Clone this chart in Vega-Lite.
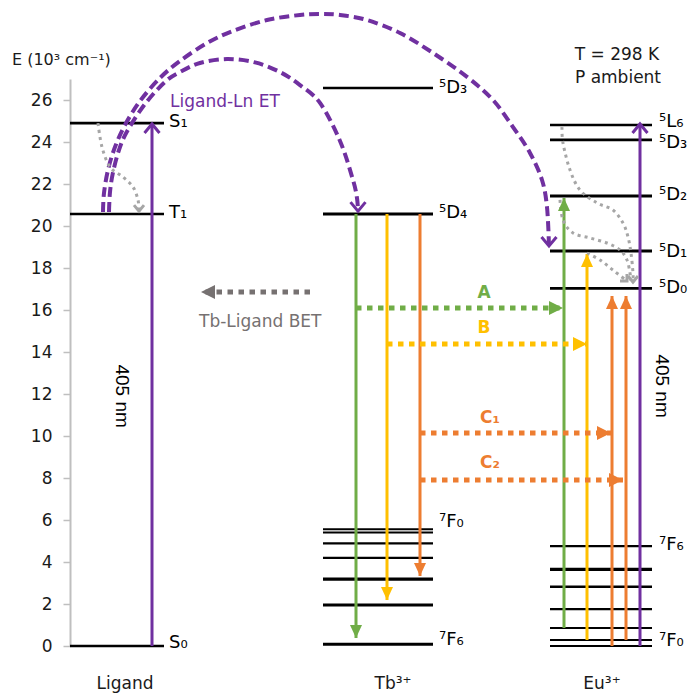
{
  "$schema": "https://vega.github.io/schema/vega-lite/v6.json",
  "width": 624,
  "height": 567,
  "autosize": {"type": "none"},
  "padding": {"left": 70, "top": 79, "right": 0, "bottom": 48},
  "background": "white",
  "config": {
    "view": {"stroke": null},
    "font": "DejaVu Sans",
    "axisY": {
      "grid": false,
      "domainColor": "#BFBFBF", "domainWidth": 2,
      "tickColor": "#BFBFBF", "tickWidth": 1.5, "tickSize": 7,
      "labelFont": "DejaVu Sans", "labelFontSize": 17, "labelColor": "#1a1a1a", "labelPadding": 11,
      "labelOverlap": false, "labelFlush": false, "labelBound": false
    }
  },
  "datasets": {
    "levels": [
      {"ion": "Ligand", "state": "S0", "x1": 70, "x2": 164, "y": 0, "weight": "normal"},
      {"ion": "Ligand", "state": "T1", "x1": 70, "x2": 164, "y": 20.57, "weight": "normal"},
      {"ion": "Ligand", "state": "S1", "x1": 70, "x2": 164, "y": 24.9, "weight": "normal"},
      {"ion": "Tb", "state": "5D3", "x1": 323, "x2": 433, "y": 26.57, "weight": "normal"},
      {"ion": "Tb", "state": "5D4", "x1": 323, "x2": 433, "y": 20.57, "weight": "bold"},
      {"ion": "Tb", "state": "7F0", "x1": 323, "x2": 433, "y": 5.56, "weight": "hair"},
      {"ion": "Tb", "state": "7F1", "x1": 323, "x2": 433, "y": 5.41, "weight": "hair"},
      {"ion": "Tb", "state": "7F2", "x1": 323, "x2": 433, "y": 4.89, "weight": "thin"},
      {"ion": "Tb", "state": "7F3", "x1": 323, "x2": 433, "y": 4.2, "weight": "thin"},
      {"ion": "Tb", "state": "7F4", "x1": 323, "x2": 433, "y": 3.18, "weight": "heavy"},
      {"ion": "Tb", "state": "7F5", "x1": 323, "x2": 433, "y": 1.95, "weight": "bold"},
      {"ion": "Tb", "state": "7F6", "x1": 323, "x2": 433, "y": 0.08, "weight": "bold"},
      {"ion": "Eu", "state": "5L6", "x1": 550, "x2": 652, "y": 24.81, "weight": "normal"},
      {"ion": "Eu", "state": "5D3", "x1": 550, "x2": 652, "y": 24.1, "weight": "normal"},
      {"ion": "Eu", "state": "5D2", "x1": 550, "x2": 652, "y": 21.43, "weight": "bold"},
      {"ion": "Eu", "state": "5D1", "x1": 550, "x2": 652, "y": 18.81, "weight": "bold"},
      {"ion": "Eu", "state": "5D0", "x1": 550, "x2": 652, "y": 17.03, "weight": "bold"},
      {"ion": "Eu", "state": "7F6", "x1": 550, "x2": 652, "y": 4.76, "weight": "thin"},
      {"ion": "Eu", "state": "7F5", "x1": 550, "x2": 652, "y": 3.65, "weight": "heavy"},
      {"ion": "Eu", "state": "7F4", "x1": 550, "x2": 652, "y": 2.82, "weight": "normal"},
      {"ion": "Eu", "state": "7F3", "x1": 550, "x2": 652, "y": 1.76, "weight": "thin"},
      {"ion": "Eu", "state": "7F2", "x1": 550, "x2": 652, "y": 0.86, "weight": "hair"},
      {"ion": "Eu", "state": "7F1", "x1": 550, "x2": 652, "y": 0.29, "weight": "hair"},
      {"ion": "Eu", "state": "7F0", "x1": 550, "x2": 652, "y": 0, "weight": "hair"}
    ],
    "levelLabels": [
      {"x": 169, "y": 24.95, "label": "S₁"},
      {"x": 169, "y": 20.6, "label": "T₁"},
      {"x": 169, "y": 0.14, "label": "S₀"},
      {"x": 439, "y": 26.57, "label": "⁵D₃"},
      {"x": 439, "y": 20.62, "label": "⁵D₄"},
      {"x": 439, "y": 5.9, "label": "⁷F₀"},
      {"x": 439, "y": 0.29, "label": "⁷F₆"},
      {"x": 659, "y": 24.95, "label": "⁵L₆"},
      {"x": 659, "y": 23.95, "label": "⁵D₃"},
      {"x": 659, "y": 21.48, "label": "⁵D₂"},
      {"x": 659, "y": 18.76, "label": "⁵D₁"},
      {"x": 659, "y": 17.05, "label": "⁵D₀"},
      {"x": 659, "y": 4.81, "label": "⁷F₆"},
      {"x": 659, "y": 0.24, "label": "⁷F₀"}
    ],
    "vert": [
      {"x": 152, "y1": 0, "y2": 24.86, "path": "ET", "head": "chevUp"},
      {"x": 356, "y1": 20.57, "y2": 0.38, "path": "A", "head": "triDown"},
      {"x": 387, "y1": 20.57, "y2": 2.19, "path": "B", "head": "triDown"},
      {"x": 420, "y1": 20.57, "y2": 3.33, "path": "C", "head": "triDown"},
      {"x": 564, "y1": 0.86, "y2": 21.33, "path": "A", "head": "triUp"},
      {"x": 587, "y1": 0.29, "y2": 18.67, "path": "B", "head": "triUp"},
      {"x": 612, "y1": 0, "y2": 16.67, "path": "C", "head": "triUp"},
      {"x": 626, "y1": 0.29, "y2": 16.67, "path": "C", "head": "triUp"},
      {"x": 640, "y1": 0, "y2": 24.86, "path": "ET", "head": "chevUp"}
    ],
    "horiz": [
      {"x1": 310, "x2": 201, "y": 16.86, "path": "BET", "head": "triLeft"},
      {"x1": 356, "x2": 563, "y": 16.1, "path": "A", "head": "triRight"},
      {"x1": 387, "x2": 587, "y": 14.38, "path": "B", "head": "triRight"},
      {"x1": 420, "x2": 611, "y": 10.14, "path": "C", "head": "triRight"},
      {"x1": 420, "x2": 623, "y": 7.9, "path": "C", "head": "triRight"}
    ],
    "curves": [
      {"curve": "ET1", "i": 0, "x": 109, "y": 20.67, "path": "ET"},
      {"curve": "ET1", "i": 1, "x": 110, "y": 21.62, "path": "ET"},
      {"curve": "ET1", "i": 2, "x": 113, "y": 22.55, "path": "ET"},
      {"curve": "ET1", "i": 3, "x": 119, "y": 23.62, "path": "ET"},
      {"curve": "ET1", "i": 4, "x": 127, "y": 24.5, "path": "ET"},
      {"curve": "ET1", "i": 5, "x": 145, "y": 25.81, "path": "ET"},
      {"curve": "ET1", "i": 6, "x": 165, "y": 26.86, "path": "ET"},
      {"curve": "ET1", "i": 7, "x": 180, "y": 27.33, "path": "ET"},
      {"curve": "ET1", "i": 8, "x": 200, "y": 27.76, "path": "ET"},
      {"curve": "ET1", "i": 9, "x": 227, "y": 27.95, "path": "ET"},
      {"curve": "ET1", "i": 10, "x": 255, "y": 27.79, "path": "ET"},
      {"curve": "ET1", "i": 11, "x": 280, "y": 27.33, "path": "ET"},
      {"curve": "ET1", "i": 12, "x": 300, "y": 26.71, "path": "ET"},
      {"curve": "ET1", "i": 13, "x": 320, "y": 25.86, "path": "ET"},
      {"curve": "ET1", "i": 14, "x": 340, "y": 24.05, "path": "ET"},
      {"curve": "ET1", "i": 15, "x": 353, "y": 22.19, "path": "ET"},
      {"curve": "ET1", "i": 16, "x": 357, "y": 21.33, "path": "ET"},
      {"curve": "ET1", "i": 17, "x": 358, "y": 20.71, "path": "ET", "head": "chevDown"},
      {"curve": "ET2", "i": 0, "x": 103, "y": 20.67, "path": "ET"},
      {"curve": "ET2", "i": 1, "x": 104, "y": 21.57, "path": "ET"},
      {"curve": "ET2", "i": 2, "x": 108, "y": 22.67, "path": "ET"},
      {"curve": "ET2", "i": 3, "x": 115, "y": 23.76, "path": "ET"},
      {"curve": "ET2", "i": 4, "x": 125, "y": 24.81, "path": "ET"},
      {"curve": "ET2", "i": 5, "x": 140, "y": 25.95, "path": "ET"},
      {"curve": "ET2", "i": 6, "x": 160, "y": 27.05, "path": "ET"},
      {"curve": "ET2", "i": 7, "x": 180, "y": 27.86, "path": "ET"},
      {"curve": "ET2", "i": 8, "x": 207, "y": 28.71, "path": "ET"},
      {"curve": "ET2", "i": 9, "x": 233, "y": 29.29, "path": "ET"},
      {"curve": "ET2", "i": 10, "x": 267, "y": 29.81, "path": "ET"},
      {"curve": "ET2", "i": 11, "x": 300, "y": 30.05, "path": "ET"},
      {"curve": "ET2", "i": 12, "x": 320, "y": 30.1, "path": "ET"},
      {"curve": "ET2", "i": 13, "x": 340, "y": 30.05, "path": "ET"},
      {"curve": "ET2", "i": 14, "x": 367, "y": 29.81, "path": "ET"},
      {"curve": "ET2", "i": 15, "x": 400, "y": 29.19, "path": "ET"},
      {"curve": "ET2", "i": 16, "x": 433, "y": 28.24, "path": "ET"},
      {"curve": "ET2", "i": 17, "x": 467, "y": 27.1, "path": "ET"},
      {"curve": "ET2", "i": 18, "x": 493, "y": 26.0, "path": "ET"},
      {"curve": "ET2", "i": 19, "x": 513, "y": 24.71, "path": "ET"},
      {"curve": "ET2", "i": 20, "x": 530, "y": 23.48, "path": "ET"},
      {"curve": "ET2", "i": 21, "x": 542, "y": 22.19, "path": "ET"},
      {"curve": "ET2", "i": 22, "x": 547, "y": 20.9, "path": "ET"},
      {"curve": "ET2", "i": 23, "x": 549, "y": 19.05, "path": "ET", "head": "chevDown"},
      {"curve": "NRL", "i": 0, "x": 98, "y": 24.9, "path": "NR"},
      {"curve": "NRL", "i": 1, "x": 102, "y": 23.76, "path": "NR"},
      {"curve": "NRL", "i": 2, "x": 110, "y": 22.81, "path": "NR"},
      {"curve": "NRL", "i": 3, "x": 123, "y": 22.33, "path": "NR"},
      {"curve": "NRL", "i": 4, "x": 133, "y": 21.86, "path": "NR"},
      {"curve": "NRL", "i": 5, "x": 138, "y": 21.24, "path": "NR"},
      {"curve": "NRL", "i": 6, "x": 139, "y": 20.71, "path": "NR", "head": "chevDownS"},
      {"curve": "NRa", "i": 0, "x": 562, "y": 24.71, "path": "NR"},
      {"curve": "NRa", "i": 1, "x": 563, "y": 23.95, "path": "NR"},
      {"curve": "NRa", "i": 2, "x": 570, "y": 22.67, "path": "NR"},
      {"curve": "NRa", "i": 3, "x": 580, "y": 21.71, "path": "NR"},
      {"curve": "NRa", "i": 4, "x": 597, "y": 21.1, "path": "NR"},
      {"curve": "NRa", "i": 5, "x": 613, "y": 20.76, "path": "NR"},
      {"curve": "NRa", "i": 6, "x": 623, "y": 20.14, "path": "NR"},
      {"curve": "NRa", "i": 7, "x": 628, "y": 19.48, "path": "NR"},
      {"curve": "NRa", "i": 8, "x": 631, "y": 18.71, "path": "NR"},
      {"curve": "NRa", "i": 9, "x": 633, "y": 17.76, "path": "NR"},
      {"curve": "NRa", "i": 10, "x": 633, "y": 17.33, "path": "NR", "head": "chevDownS"},
      {"curve": "NRb", "i": 0, "x": 560, "y": 21.24, "path": "NR"},
      {"curve": "NRb", "i": 1, "x": 563, "y": 20.29, "path": "NR"},
      {"curve": "NRb", "i": 2, "x": 573, "y": 19.67, "path": "NR"},
      {"curve": "NRb", "i": 3, "x": 590, "y": 19.43, "path": "NR"},
      {"curve": "NRb", "i": 4, "x": 607, "y": 19.19, "path": "NR"},
      {"curve": "NRb", "i": 5, "x": 620, "y": 18.86, "path": "NR"},
      {"curve": "NRb", "i": 6, "x": 627, "y": 18.38, "path": "NR"},
      {"curve": "NRb", "i": 7, "x": 630, "y": 17.76, "path": "NR"},
      {"curve": "NRb", "i": 8, "x": 631, "y": 17.4, "path": "NR"},
      {"curve": "NRc", "i": 0, "x": 587, "y": 18.71, "path": "NR"},
      {"curve": "NRc", "i": 1, "x": 600, "y": 18.38, "path": "NR"},
      {"curve": "NRc", "i": 2, "x": 613, "y": 17.9, "path": "NR"},
      {"curve": "NRc", "i": 3, "x": 627, "y": 17.38, "path": "NR", "head": "chevDownRightS"}
    ],
    "notes": [
      {"x": 170, "y": 25.9, "text": "Ligand-Ln ET", "path": "ET"},
      {"x": 199, "y": 15.43, "text": "Tb-Ligand BET", "path": "BET"}
    ],
    "letters": [
      {"x": 484, "y": 16.81, "text": "A", "path": "A"},
      {"x": 484, "y": 15.14, "text": "B", "path": "B"},
      {"x": 490, "y": 10.86, "text": "C₁", "path": "C"},
      {"x": 490, "y": 8.71, "text": "C₂", "path": "C"}
    ],
    "captions": [
      {"x": 125, "y": -1.8, "text": "Ligand"},
      {"x": 393, "y": -1.8, "text": "Tb³⁺"},
      {"x": 602, "y": -1.8, "text": "Eu³⁺"},
      {"x": 617, "y": 28.14, "text": "T = 298 K"},
      {"x": 618, "y": 27.05, "text": "P ambient"}
    ],
    "wavelength": [
      {"x": 122, "y": 11.9, "text": "405 nm"},
      {"x": 662, "y": 12.38, "text": "405 nm"}
    ],
    "ytitle": [
      {"x": 12, "y": 27.9, "text": "E (10³ cm⁻¹)"}
    ]
  },
  "layer": [
    {
      "data": {"name": "levels"},
      "mark": {"type": "rule", "color": "#000000"},
      "encoding": {
        "x": {"field": "x1", "type": "quantitative", "scale": {"domain": [70, 694], "nice": false, "zero": false}, "axis": null},
        "x2": {"field": "x2"},
        "y": {
          "field": "y", "type": "quantitative", "title": null,
          "scale": {"domain": [0, 27], "nice": false},
          "axis": {
            "values": [0,1,2,3,4,5,6,7,8,9,10,11,12,13,14,15,16,17,18,19,20,21,22,23,24,25,26,27],
            "labelExpr": "datum.value % 2 === 0 ? datum.label : ''"
          }
        },
        "strokeWidth": {"field": "weight", "type": "ordinal", "scale": {"domain": ["hair", "thin", "normal", "bold", "heavy"], "range": [2, 3.2, 4, 6, 7.5]}, "legend": null}
      }
    },
    {
      "data": {"name": "vert"},
      "mark": {"type": "rule", "strokeWidth": 3},
      "encoding": {
        "x": {"field": "x", "type": "quantitative", "axis": null},
        "y": {"field": "y1", "type": "quantitative", "title": null},
        "y2": {"field": "y2"},
        "color": {"field": "path", "type": "nominal", "scale": {"domain": ["ET", "A", "B", "C", "NR", "BET"], "range": ["#7030A0", "#70AD47", "#FFC000", "#ED7D31", "#A6A6A6", "#767171"]}, "legend": null}
      }
    },
    {
      "data": {"name": "horiz"},
      "mark": {"type": "rule", "strokeWidth": 5, "strokeDash": [5.5, 5.5]},
      "encoding": {
        "x": {"field": "x1", "type": "quantitative", "axis": null},
        "x2": {"field": "x2"},
        "y": {"field": "y", "type": "quantitative", "title": null},
        "color": {"field": "path", "type": "nominal", "scale": {"domain": ["ET", "A", "B", "C", "NR", "BET"], "range": ["#7030A0", "#70AD47", "#FFC000", "#ED7D31", "#A6A6A6", "#767171"]}, "legend": null}
      }
    },
    {
      "data": {"name": "curves"},
      "transform": [{"filter": "datum.path === 'ET'"}],
      "mark": {"type": "line", "interpolate": "cardinal", "strokeWidth": 4, "strokeDash": [10, 5], "color": "#7030A0"},
      "encoding": {
        "x": {"field": "x", "type": "quantitative", "axis": null},
        "y": {"field": "y", "type": "quantitative", "title": null},
        "detail": {"field": "curve"},
        "order": {"field": "i", "type": "quantitative"}
      }
    },
    {
      "data": {"name": "curves"},
      "transform": [{"filter": "datum.path === 'NR'"}],
      "mark": {"type": "line", "interpolate": "cardinal", "strokeWidth": 3, "strokeDash": [3, 4], "color": "#A6A6A6"},
      "encoding": {
        "x": {"field": "x", "type": "quantitative", "axis": null},
        "y": {"field": "y", "type": "quantitative", "title": null},
        "detail": {"field": "curve"},
        "order": {"field": "i", "type": "quantitative"}
      }
    },
    {
      "data": {"name": "vert"},
      "transform": [{"filter": "datum.head === 'triUp' || datum.head === 'triDown'"}],
      "mark": {"type": "point", "filled": true, "opacity": 1, "size": 400, "strokeWidth": 0},
      "encoding": {
        "x": {"field": "x", "type": "quantitative", "axis": null},
        "y": {"field": "y2", "type": "quantitative", "title": null},
        "shape": {"field": "head", "type": "nominal", "legend": null, "scale": {"domain": ["triDown", "triUp", "triRight", "triLeft", "chevUp", "chevDown", "chevDownS", "chevDownRightS"], "range": ["M0,0L-0.6,-1.3L0.6,-1.3Z", "M0,0L-0.6,1.3L0.6,1.3Z", "M0,0L-1.4,-0.7L-1.4,0.7Z", "M0,0L1.4,-0.7L1.4,0.7Z", "M-0.75,0.9L0,0L0.75,0.9", "M-0.75,-0.9L0,0L0.75,-0.9", "M-0.5,-0.6L0,0L0.5,-0.6", "M-0.7,0L0,0L0,-0.7"]}},
        "color": {"field": "path", "type": "nominal", "scale": {"domain": ["ET", "A", "B", "C", "NR", "BET"], "range": ["#7030A0", "#70AD47", "#FFC000", "#ED7D31", "#A6A6A6", "#767171"]}, "legend": null}
      }
    },
    {
      "data": {"name": "vert"},
      "transform": [{"filter": "datum.head === 'chevUp'"}],
      "mark": {"type": "point", "filled": false, "opacity": 1, "size": 400, "strokeWidth": 3},
      "encoding": {
        "x": {"field": "x", "type": "quantitative", "axis": null},
        "y": {"field": "y2", "type": "quantitative", "title": null},
        "shape": {"field": "head", "type": "nominal", "legend": null, "scale": {"domain": ["triDown", "triUp", "triRight", "triLeft", "chevUp", "chevDown", "chevDownS", "chevDownRightS"], "range": ["M0,0L-0.6,-1.3L0.6,-1.3Z", "M0,0L-0.6,1.3L0.6,1.3Z", "M0,0L-1.4,-0.7L-1.4,0.7Z", "M0,0L1.4,-0.7L1.4,0.7Z", "M-0.75,0.9L0,0L0.75,0.9", "M-0.75,-0.9L0,0L0.75,-0.9", "M-0.5,-0.6L0,0L0.5,-0.6", "M-0.7,0L0,0L0,-0.7"]}},
        "color": {"field": "path", "type": "nominal", "scale": {"domain": ["ET", "A", "B", "C", "NR", "BET"], "range": ["#7030A0", "#70AD47", "#FFC000", "#ED7D31", "#A6A6A6", "#767171"]}, "legend": null}
      }
    },
    {
      "data": {"name": "horiz"},
      "mark": {"type": "point", "filled": true, "opacity": 1, "size": 400, "strokeWidth": 0},
      "encoding": {
        "x": {"field": "x2", "type": "quantitative", "axis": null},
        "y": {"field": "y", "type": "quantitative", "title": null},
        "shape": {"field": "head", "type": "nominal", "legend": null, "scale": {"domain": ["triDown", "triUp", "triRight", "triLeft", "chevUp", "chevDown", "chevDownS", "chevDownRightS"], "range": ["M0,0L-0.6,-1.3L0.6,-1.3Z", "M0,0L-0.6,1.3L0.6,1.3Z", "M0,0L-1.4,-0.7L-1.4,0.7Z", "M0,0L1.4,-0.7L1.4,0.7Z", "M-0.75,0.9L0,0L0.75,0.9", "M-0.75,-0.9L0,0L0.75,-0.9", "M-0.5,-0.6L0,0L0.5,-0.6", "M-0.7,0L0,0L0,-0.7"]}},
        "color": {"field": "path", "type": "nominal", "scale": {"domain": ["ET", "A", "B", "C", "NR", "BET"], "range": ["#7030A0", "#70AD47", "#FFC000", "#ED7D31", "#A6A6A6", "#767171"]}, "legend": null}
      }
    },
    {
      "data": {"name": "curves"},
      "transform": [{"filter": "isValid(datum.head)"}],
      "mark": {"type": "point", "filled": false, "opacity": 1, "size": 400, "strokeWidth": 3},
      "encoding": {
        "x": {"field": "x", "type": "quantitative", "axis": null},
        "y": {"field": "y", "type": "quantitative", "title": null},
        "shape": {"field": "head", "type": "nominal", "legend": null, "scale": {"domain": ["triDown", "triUp", "triRight", "triLeft", "chevUp", "chevDown", "chevDownS", "chevDownRightS"], "range": ["M0,0L-0.6,-1.3L0.6,-1.3Z", "M0,0L-0.6,1.3L0.6,1.3Z", "M0,0L-1.4,-0.7L-1.4,0.7Z", "M0,0L1.4,-0.7L1.4,0.7Z", "M-0.75,0.9L0,0L0.75,0.9", "M-0.75,-0.9L0,0L0.75,-0.9", "M-0.5,-0.6L0,0L0.5,-0.6", "M-0.7,0L0,0L0,-0.7"]}},
        "color": {"field": "path", "type": "nominal", "scale": {"domain": ["ET", "A", "B", "C", "NR", "BET"], "range": ["#7030A0", "#70AD47", "#FFC000", "#ED7D31", "#A6A6A6", "#767171"]}, "legend": null}
      }
    },
    {
      "data": {"name": "levelLabels"},
      "mark": {"type": "text", "align": "left", "baseline": "middle", "fontSize": 18, "font": "DejaVu Sans", "color": "#000000"},
      "encoding": {
        "x": {"field": "x", "type": "quantitative", "axis": null},
        "y": {"field": "y", "type": "quantitative", "title": null},
        "text": {"field": "label"}
      }
    },
    {
      "data": {"name": "notes"},
      "mark": {"type": "text", "align": "left", "baseline": "middle", "fontSize": 17, "font": "DejaVu Sans"},
      "encoding": {
        "x": {"field": "x", "type": "quantitative", "axis": null},
        "y": {"field": "y", "type": "quantitative", "title": null},
        "text": {"field": "text"},
        "color": {"field": "path", "type": "nominal", "scale": {"domain": ["ET", "A", "B", "C", "NR", "BET"], "range": ["#7030A0", "#70AD47", "#FFC000", "#ED7D31", "#A6A6A6", "#767171"]}, "legend": null}
      }
    },
    {
      "data": {"name": "letters"},
      "mark": {"type": "text", "align": "center", "baseline": "middle", "fontSize": 17, "fontWeight": "bold", "font": "DejaVu Sans"},
      "encoding": {
        "x": {"field": "x", "type": "quantitative", "axis": null},
        "y": {"field": "y", "type": "quantitative", "title": null},
        "text": {"field": "text"},
        "color": {"field": "path", "type": "nominal", "scale": {"domain": ["ET", "A", "B", "C", "NR", "BET"], "range": ["#7030A0", "#70AD47", "#FFC000", "#ED7D31", "#A6A6A6", "#767171"]}, "legend": null}
      }
    },
    {
      "data": {"name": "captions"},
      "mark": {"type": "text", "align": "center", "baseline": "middle", "fontSize": 17, "font": "DejaVu Sans", "color": "#1a1a1a"},
      "encoding": {
        "x": {"field": "x", "type": "quantitative", "axis": null},
        "y": {"field": "y", "type": "quantitative", "title": null},
        "text": {"field": "text"}
      }
    },
    {
      "data": {"name": "wavelength"},
      "mark": {"type": "text", "align": "center", "baseline": "middle", "fontSize": 19, "angle": 90, "font": "Liberation Sans", "color": "#000000"},
      "encoding": {
        "x": {"field": "x", "type": "quantitative", "axis": null},
        "y": {"field": "y", "type": "quantitative", "title": null},
        "text": {"field": "text"}
      }
    },
    {
      "data": {"name": "ytitle"},
      "mark": {"type": "text", "align": "left", "baseline": "middle", "fontSize": 16, "font": "DejaVu Sans", "color": "#1a1a1a"},
      "encoding": {
        "x": {"field": "x", "type": "quantitative", "axis": null},
        "y": {"field": "y", "type": "quantitative", "title": null},
        "text": {"field": "text"}
      }
    }
  ]
}
